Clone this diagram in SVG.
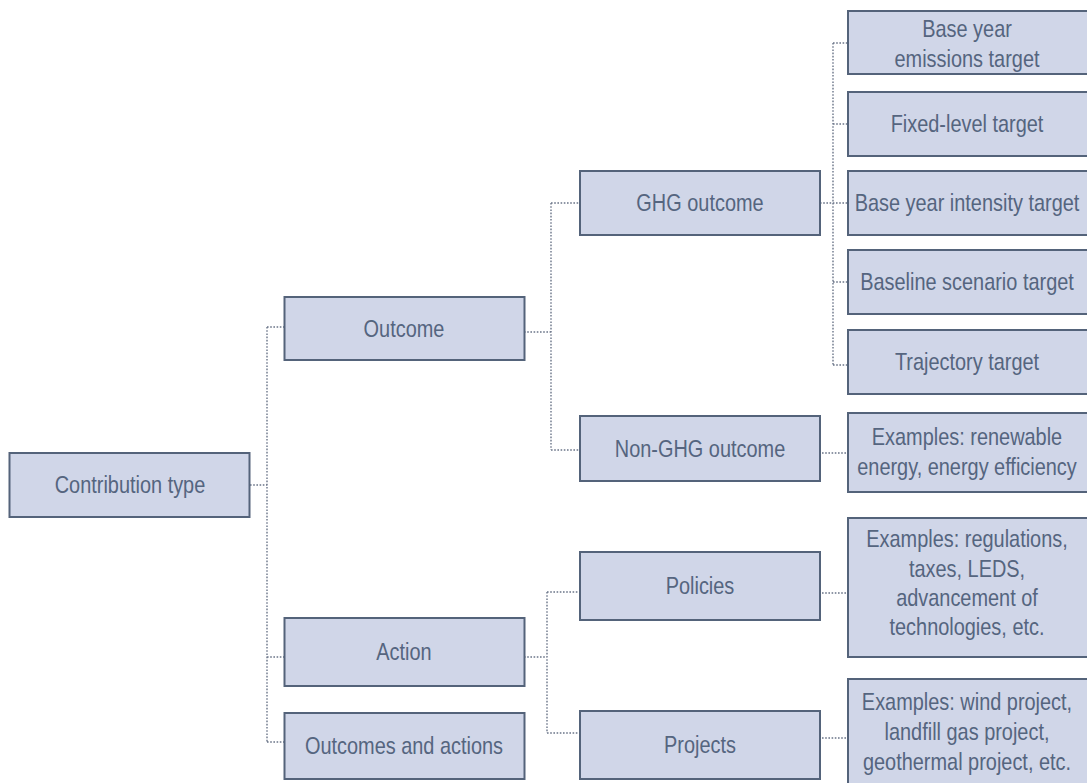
<svg xmlns="http://www.w3.org/2000/svg" width="1087" height="783" viewBox="0 0 1087 783">
<style>
.box{fill:#d0d6e8;stroke:#54637a;stroke-width:2}
.t{font-family:"Liberation Sans",Arial,sans-serif;font-size:24px;fill:#55657f;text-anchor:middle}
.c{fill:none;stroke:#6a7488;stroke-width:1.4;stroke-dasharray:1.6 1.6}
</style>
<rect width="1087" height="783" fill="#ffffff"/>
<g id="connectors">
<path class="c" d="M250 485H267M267 327V742M267 327H285M267 657H285M267 742H285"/>
<path class="c" d="M524 332H551M551 203V450M551 203H580M551 450H580"/>
<path class="c" d="M524 657H547M547 592V733M547 592H580M547 733H580"/>
<path class="c" d="M820 203H848M833 43V365M833 43H848M833 124H848M833 282H848M833 365H848"/>
<path class="c" d="M822 453H847M822 593H847M822 738H847"/>
</g>
<g id="n-contribution"><rect class="box" x="9.5" y="453" width="240" height="64"/><text class="t" transform="translate(130 493) scale(0.83 1)">Contribution type</text></g>
<g id="n-outcome"><rect class="box" x="284.5" y="297" width="240" height="63"/><text class="t" transform="translate(404 337) scale(0.83 1)">Outcome</text></g>
<g id="n-action"><rect class="box" x="284.5" y="618" width="240" height="68"/><text class="t" transform="translate(404 660) scale(0.83 1)">Action</text></g>
<g id="n-outcomes-actions"><rect class="box" x="284.5" y="713" width="240" height="66"/><text class="t" transform="translate(404 754) scale(0.83 1)">Outcomes and actions</text></g>
<g id="n-ghg"><rect class="box" x="580" y="171" width="240" height="64"/><text class="t" transform="translate(700 211) scale(0.83 1)">GHG outcome</text></g>
<g id="n-nonghg"><rect class="box" x="580" y="416" width="240" height="65"/><text class="t" transform="translate(700 457) scale(0.83 1)">Non-GHG outcome</text></g>
<g id="n-policies"><rect class="box" x="580" y="552" width="240" height="68"/><text class="t" transform="translate(700 594) scale(0.83 1)">Policies</text></g>
<g id="n-projects"><rect class="box" x="580" y="711" width="240" height="68"/><text class="t" transform="translate(700 753) scale(0.83 1)">Projects</text></g>
<g id="n-base-emissions"><rect class="box" x="848" y="11" width="241" height="63"/><text class="t" transform="translate(967 0) scale(0.83 1)"><tspan x="0" y="37">Base year</tspan><tspan x="0" y="67">emissions target</tspan></text></g>
<g id="n-fixed"><rect class="box" x="848" y="92" width="241" height="64"/><text class="t" transform="translate(967 132) scale(0.83 1)">Fixed-level target</text></g>
<g id="n-intensity"><rect class="box" x="848" y="171" width="241" height="64"/><text class="t" transform="translate(967 211) scale(0.83 1)">Base year intensity target</text></g>
<g id="n-baseline"><rect class="box" x="848" y="250" width="241" height="64"/><text class="t" transform="translate(967 290) scale(0.83 1)">Baseline scenario target</text></g>
<g id="n-trajectory"><rect class="box" x="848" y="330" width="241" height="64"/><text class="t" transform="translate(967 370) scale(0.83 1)">Trajectory target</text></g>
<g id="n-renewable"><rect class="box" x="848" y="413" width="241" height="79"/><text class="t" transform="translate(967 0) scale(0.83 1)"><tspan x="0" y="445">Examples: renewable</tspan><tspan x="0" y="475">energy, energy efficiency</tspan></text></g>
<g id="n-regulations"><rect class="box" x="848" y="518" width="241" height="139"/><text class="t" transform="translate(967 0) scale(0.83 1)"><tspan x="0" y="547">Examples: regulations,</tspan><tspan x="0" y="577">taxes, LEDS,</tspan><tspan x="0" y="606">advancement of</tspan><tspan x="0" y="635">technologies, etc.</tspan></text></g>
<g id="n-wind"><rect class="box" x="848" y="679" width="241" height="110"/><text class="t" transform="translate(967 0) scale(0.83 1)"><tspan x="0" y="710">Examples: wind project,</tspan><tspan x="0" y="740">landfill gas project,</tspan><tspan x="0" y="770">geothermal project, etc.</tspan></text></g>
</svg>
